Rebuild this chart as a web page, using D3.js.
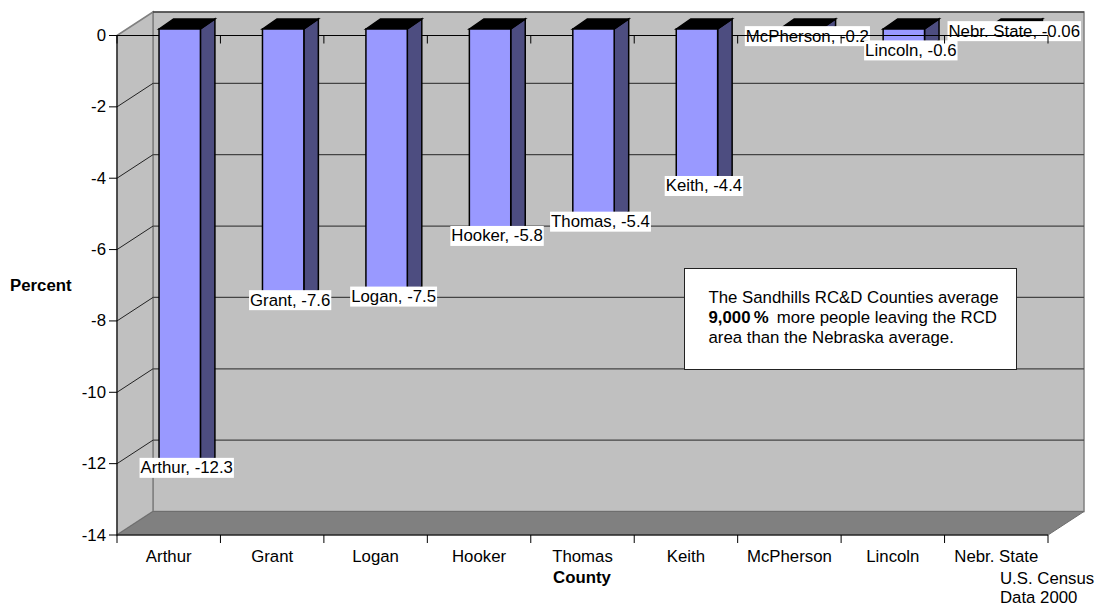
<!DOCTYPE html>
<html>
<head>
<meta charset="utf-8">
<script src="https://cdnjs.cloudflare.com/ajax/libs/d3/7.8.5/d3.min.js"></script>
<style>
html, body { margin: 0; padding: 0; background: #fff; }
svg { display: block; }
text { font-family: "Liberation Sans", Arial, sans-serif; fill: #000; }
</style>
</head>
<body>
<script>
const counties = ['Arthur', 'Grant', 'Logan', 'Hooker', 'Thomas', 'Keith', 'McPherson', 'Lincoln', 'Nebr. State']
const percents = [-12.3, -7.6, -7.5, -5.8, -5.4, -4.4, -0.2, -0.6, -0.06]
const y_ticks = [0, -2, -4, -6, -8, -10, -12, -14]
const note_lines = [
    [['The Sandhills RC&D Counties average', false]],
    [['9,000\u2009%', true], ['\u2009 more people leaving the RCD', false]],
    [['area than the Nebraska average.', false]]
]
const source_lines = ['U.S. Census', 'Data 2000']

const width = 1101, height = 607
const margin = {left: 117, right: 1048, top: 35.5, bottom: 535}
const wall = {dx: 36, dy: -23.5}     // depth of the whole 3d box
const bar_front = {dx: 11, dy: -6.5} // where bars stand inside the box
const bar_depth = {dx: 14.5, dy: -10}
const font_size = 16.8

let x_scale = d3.scaleBand().domain(counties).range([margin.left, margin.right])
let y_scale = d3.scaleLinear().domain([0, -14]).range([margin.top, margin.bottom])

let svg = d3.select('body').append('svg')
    .attr('width', width)
    .attr('height', height)

function poly(g, pts, fill, stroke, sw) {
    return g.append('polygon')
        .attr('points', pts.map(p => p.join(',')).join(' '))
        .attr('fill', fill)
        .attr('stroke', stroke)
        .attr('stroke-width', sw)
}

function line(g, x1, y1, x2, y2, color, sw) {
    return g.append('line')
        .attr('x1', x1).attr('y1', y1)
        .attr('x2', x2).attr('y2', y2)
        .attr('stroke', color)
        .attr('stroke-width', sw || 1)
}

// box walls
let box = svg.append('g')
let x0 = margin.left, x1 = margin.right
let y0 = y_scale(0), y1 = y_scale(-14)

poly(box, [[x0 + wall.dx, y0 + wall.dy], [x1 + wall.dx, y0 + wall.dy], [x1 + wall.dx, y1 + wall.dy], [x0 + wall.dx, y1 + wall.dy]], '#c0c0c0', '#808080', 1.5)
poly(box, [[x0, y0], [x0 + wall.dx, y0 + wall.dy], [x0 + wall.dx, y1 + wall.dy], [x0, y1]], '#c0c0c0', '#808080', 1.5)
poly(box, [[x0, y1], [x0 + wall.dx, y1 + wall.dy], [x1 + wall.dx, y1 + wall.dy], [x1, y1]], '#808080', '#6e6e6e', 1)

// top edge of back wall is dark
line(box, x0 + wall.dx, y0 + wall.dy, x1 + wall.dx, y0 + wall.dy, '#222', 1)

// gridlines on the back wall + the side wall
y_ticks.filter(d => d !== 0 && d !== -14).forEach(d => {
    let y = y_scale(d)
    line(box, x0 + wall.dx, y + wall.dy, x1 + wall.dx, y + wall.dy, '#444', 1.2)
    line(box, x0, y, x0 + wall.dx, y + wall.dy, '#222', 1)
})

// bars
let bw = x_scale.bandwidth() * 0.4
function bar_x(c) {
    return x_scale(c) + (x_scale.bandwidth() - bw) / 2 + bar_front.dx
}

let bars = svg.append('g')
counties.forEach((c, i) => {
    let bx = bar_x(c)
    let top = y_scale(0) + bar_front.dy
    let bot = y_scale(percents[i]) + bar_front.dy
    let d = bar_depth
    poly(bars, [[bx + bw, top], [bx + bw + d.dx, top + d.dy], [bx + bw + d.dx, bot + d.dy], [bx + bw, bot]], '#4d4d80', '#000', 1.5)
    poly(bars, [[bx, top], [bx + d.dx, top + d.dy], [bx + bw + d.dx, top + d.dy], [bx + bw, top]], '#000', '#000', 1.5)
    poly(bars, [[bx, top], [bx + bw, top], [bx + bw, bot], [bx, bot]], '#9999ff', '#000', 1.5)
})

// data labels, white box behind the text
let labels = svg.append('g')
counties.forEach((c, i) => {
    let cx = x_scale(c) + x_scale.bandwidth() / 2 + bar_front.dx + 7
    let cy = y_scale(percents[i]) + bar_front.dy
    let g = labels.append('g')
    let rect = g.append('rect').attr('fill', '#fff')
    let t = g.append('text')
        .attr('x', cx)
        .attr('y', cy + 5.5)
        .attr('text-anchor', 'middle')
        .attr('font-size', font_size)
        .text(c + ', ' + percents[i])
    let b = t.node().getBBox()
    rect.attr('x', b.x - 1).attr('y', cy - 10).attr('width', b.width + 2).attr('height', 20)
})

// axes on the front plane, the tall bars hide the zero line
let axis_g = svg.append('g')
let zero_from = x0
counties.forEach((c, i) => {
    if (percents[i] > -1) return
    line(axis_g, zero_from, y0, bar_x(c), y0, '#000', 1.2)
    zero_from = bar_x(c) + bw + bar_depth.dx
})
line(axis_g, zero_from, y0, x1, y0, '#000', 1.2)
line(axis_g, x0, y0, x0, y1, '#000', 1)
line(axis_g, x0, y1, x1, y1, '#000', 1)

y_ticks.forEach(d => {
    let y = y_scale(d)
    line(axis_g, x0 - 8, y, x0, y, '#000', 1)
    axis_g.append('text')
        .attr('x', x0 - 11)
        .attr('y', y + 5.5)
        .attr('text-anchor', 'end')
        .attr('font-size', font_size)
        .text(d)
})

counties.forEach((c, i) => {
    let tx = x_scale(c)
    line(axis_g, tx, y0, tx, y0 + 8, '#000', 1)
    line(axis_g, tx, y1, tx, y1 + 8, '#000', 1)
    axis_g.append('text')
        .attr('x', tx + x_scale.bandwidth() / 2)
        .attr('y', y1 + 27)
        .attr('text-anchor', 'middle')
        .attr('font-size', font_size)
        .text(c)
})
line(axis_g, x1, y0, x1, y0 + 8, '#000', 1)
line(axis_g, x1, y1, x1, y1 + 8, '#000', 1)

// axis titles
svg.append('text')
    .attr('x', 10).attr('y', 291)
    .attr('font-size', font_size).attr('font-weight', 'bold')
    .text('Percent')
svg.append('text')
    .attr('x', 582).attr('y', 583)
    .attr('text-anchor', 'middle')
    .attr('font-size', font_size).attr('font-weight', 'bold')
    .text('County')

// note box
svg.append('rect')
    .attr('x', 684.5).attr('y', 268.5)
    .attr('width', 332).attr('height', 101)
    .attr('fill', '#fff').attr('stroke', '#222')
note_lines.forEach((segs, i) => {
    let t = svg.append('text')
        .attr('x', 708.5).attr('y', 303 + i * 20)
        .attr('font-size', font_size)
    segs.forEach(s => {
        t.append('tspan')
            .attr('font-weight', s[1] ? 'bold' : 'normal')
            .text(s[0])
    })
})

// source note
source_lines.forEach((s, i) => {
    svg.append('text')
        .attr('x', 1000).attr('y', 584 + i * 19)
        .attr('font-size', font_size)
        .text(s)
})
</script>
</body>
</html>
